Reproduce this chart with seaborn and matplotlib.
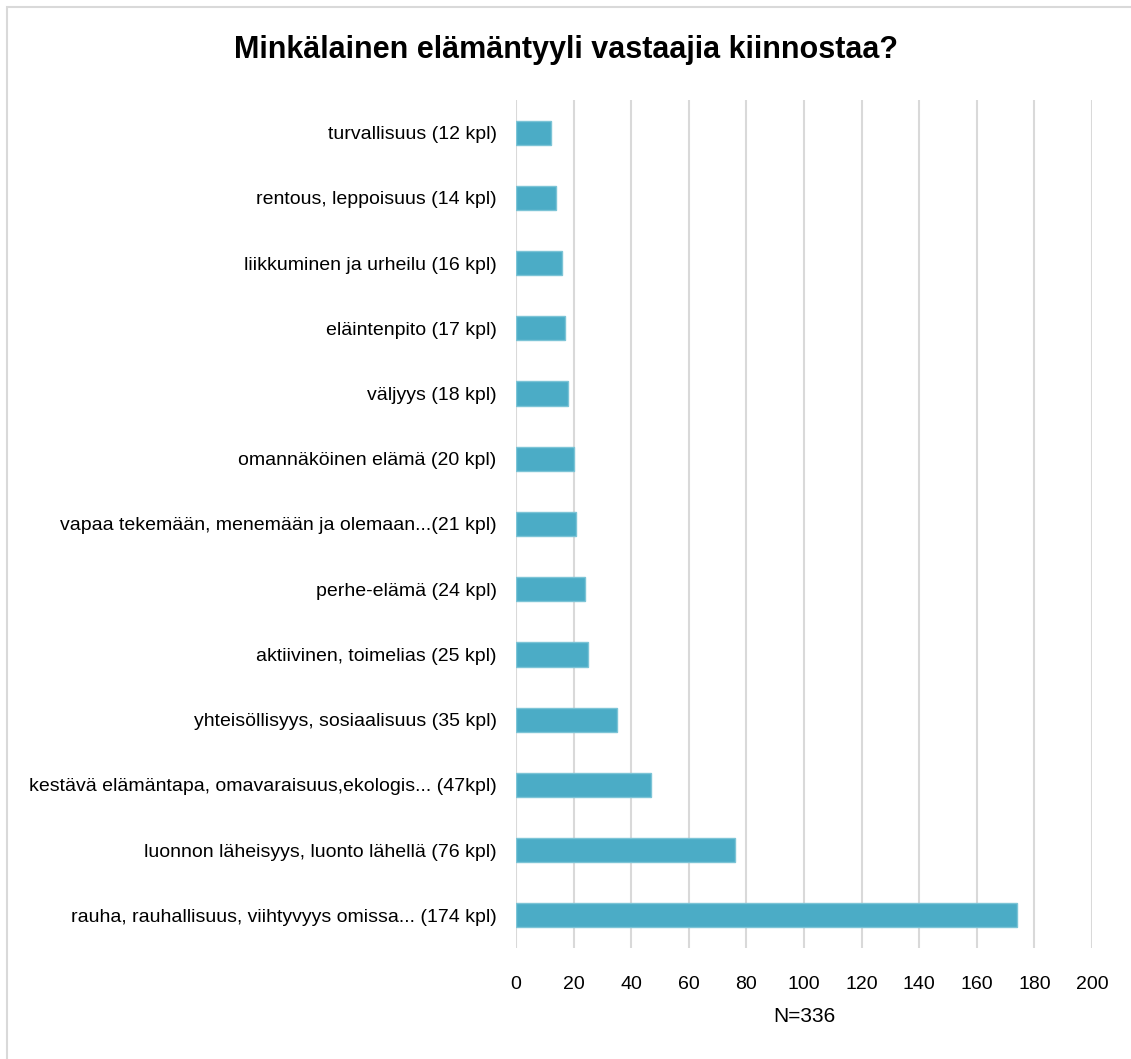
import pandas as pd
import matplotlib.pyplot as plt
import seaborn as sns
from matplotlib.patches import Rectangle

# ==========================
# Data
# ==========================
categories = [
    "turvallisuus (12 kpl)",
    "rentous, leppoisuus (14 kpl)",
    "liikkuminen ja urheilu (16 kpl)",
    "eläintenpito (17 kpl)",
    "väljyys (18 kpl)",
    "omannäköinen elämä (20 kpl)",
    "vapaa tekemään, menemään ja olemaan...(21 kpl)",
    "perhe-elämä (24 kpl)",
    "aktiivinen, toimelias (25 kpl)",
    "yhteisöllisyys, sosiaalisuus (35 kpl)",
    "kestävä elämäntapa, omavaraisuus,ekologis... (47kpl)",
    "luonnon läheisyys, luonto lähellä (76 kpl)",
    "rauha, rauhallisuus, viihtyvyys omissa... (174 kpl)",
]
counts = [12, 14, 16, 17, 18, 20, 21, 24, 25, 35, 47, 76, 174]
x_ticks = [0, 20, 40, 60, 80, 100, 120, 140, 160, 180, 200]

df = pd.DataFrame({"kategoria": categories, "lkm": counts})

# ==========================
# Style
# ==========================
sns.set_theme(style="white")
plt.rcParams["font.family"] = ["Liberation Sans Narrow", "Liberation Sans", "DejaVu Sans"]
plt.rcParams["text.color"] = "black"
plt.rcParams["axes.labelcolor"] = "black"

fig = plt.figure(figsize=(11.31, 10.59), dpi=100)
ax = fig.add_axes([0.4562, 0.1048, 0.5093, 0.8008])

sns.barplot(
    data=df,
    x="lkm",
    y="kategoria",
    orient="h",
    color="#4BACC6",
    saturation=1,
    width=0.37,
    edgecolor="#7CC4D6",
    linewidth=1,
    ax=ax
)

ax.set_xlim(0, 200)
ax.set_xticks(x_ticks)
ax.xaxis.grid(True, color="#D9D9D9", linewidth=1.5)
ax.set_axisbelow(True)
for s in ax.spines.values():
    s.set_visible(False)

ax.tick_params(axis="x", labelsize=14, pad=20, length=0, colors="black")
ax.tick_params(axis="y", labelsize=14, pad=14, length=0, colors="black")
ax.set_ylabel("")
ax.set_xlabel("N=336", fontsize=15, labelpad=10, color="black")

fig.text(
    0.5, 0.953,
    "Minkälainen elämäntyyli vastaajia kiinnostaa?",
    ha="center", va="center",
    fontsize=22, fontweight="bold", color="black"
)

# outer chart border
fig.patches.append(Rectangle(
    (7 / 1131, -0.1), 1.2, 1 - 7 / 1059 + 0.1,
    transform=fig.transFigure, fill=False,
    edgecolor="#D9D9D9", linewidth=1.5
))

plt.savefig("out.png", dpi=100)
